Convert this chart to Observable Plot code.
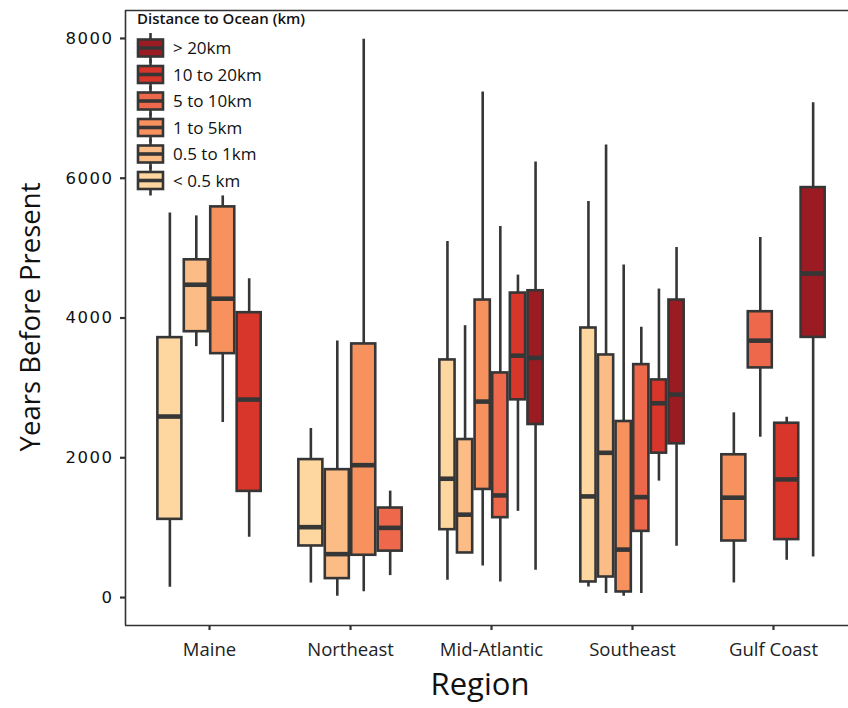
<!DOCTYPE html>
<html>
<head>
<meta charset="utf-8">
<script src="https://cdn.jsdelivr.net/npm/d3@7"></script>
<script src="https://cdn.jsdelivr.net/npm/@observablehq/plot@0.6"></script>
<style>
  html, body { margin: 0; padding: 0; background: #fff; }
  #chart { position: relative; width: 848px; height: 708px; }
  svg { font-family: "Open Sans", sans-serif; }
  g[aria-label="y-axis tick label"] text { font-family: "DejaVu Sans", sans-serif; font-size: 16.5px; letter-spacing: 1.5px; fill: #111; }
  g[aria-label="x-axis tick label"] text { font-family: "Open Sans", sans-serif; font-size: 18.5px; fill: #222; }
</style>
</head>
<body>
<div id="chart"></div>
<script>
const regions = ["Maine", "Northeast", "Mid-Atlantic", "Southeast", "Gulf Coast"];
const distances = ["< 0.5 km", "0.5 to 1km", "1 to 5km", "5 to 10km", "10 to 20km", "> 20km"];
const distanceColors = ["#fed69f", "#fbbc86", "#f7915e", "#ee684b", "#d8362a", "#9a1c22"];
const yTicks = [0, 2000, 4000, 6000, 8000];

// one entry per box
const boxRegion = [
  "Maine", "Maine", "Maine", "Maine",
  "Northeast", "Northeast", "Northeast", "Northeast",
  "Mid-Atlantic", "Mid-Atlantic", "Mid-Atlantic", "Mid-Atlantic", "Mid-Atlantic", "Mid-Atlantic",
  "Southeast", "Southeast", "Southeast", "Southeast", "Southeast", "Southeast",
  "Gulf Coast", "Gulf Coast", "Gulf Coast", "Gulf Coast"
];
const boxDistance = [
  "< 0.5 km", "0.5 to 1km", "1 to 5km", "10 to 20km",
  "< 0.5 km", "0.5 to 1km", "1 to 5km", "5 to 10km",
  "< 0.5 km", "0.5 to 1km", "1 to 5km", "5 to 10km", "10 to 20km", "> 20km",
  "< 0.5 km", "0.5 to 1km", "1 to 5km", "5 to 10km", "10 to 20km", "> 20km",
  "1 to 5km", "5 to 10km", "10 to 20km", "> 20km"
];
const whiskerLow = [147, 3590, 2504, 862,   207, 19, 84, 314,   247, 638, 451, 223, 1233, 390,   151, 57, 19, 57, 1666, 733,   209, 2294, 533, 580];
const q1         = [1119, 3804, 3490, 1519, 738, 271, 605, 664, 971, 638, 1547, 1143, 2829, 2476, 223, 294, 80, 947, 2066, 2200, 809, 3286, 829, 3723];
const medianVal  = [2590, 4476, 4276, 2833, 1007, 621, 1894, 997, 1700, 1186, 2804, 1461, 3461, 3429, 1447, 2071, 686, 1437, 2780, 2904, 1429, 3676, 1690, 4637];
const q3         = [3719, 4833, 5590, 4076, 1974, 1830, 3629, 1281, 3400, 2261, 4257, 3214, 4357, 4390, 3857, 3471, 2519, 3333, 3114, 4257, 2043, 4090, 2494, 5866];
const whiskerHigh= [5504, 5461, 5747, 4561, 2419, 3671, 7990, 1523, 5095, 3890, 7233, 5309, 4614, 6233, 5666, 6476, 4757, 3866, 4414, 5009, 2643, 5152, 2580, 7080];

// dodge boxes inside each region (only present groups share the width)
const dodgeWidth = 0.75;
const boxes = boxRegion.map((r, i) => {
  const members = boxRegion.map((rr, k) => rr === r ? k : -1).filter(k => k >= 0);
  const n = members.length, j = members.indexOf(i);
  const slot = dodgeWidth / n;
  const center = regions.indexOf(r) + 1 + (j - (n - 1) / 2) * slot;
  return {
    region: r, distance: boxDistance[i],
    xc: center, x1: center - slot / 2, x2: center + slot / 2,
    lo: whiskerLow[i], q1: q1[i], med: medianVal[i], q3: q3[i], hi: whiskerHigh[i]
  };
});

const xDomain = [0.404, 5.532];
const yDomain = [-400, 8400];
const ink = "#363636";

const chart = Plot.plot({
  width: 848,
  height: 708,
  marginLeft: 125,
  marginRight: 0,
  marginTop: 10,
  marginBottom: 83,
  style: { background: "#fff", overflow: "visible" },
  x: { type: "linear", domain: xDomain },
  y: { domain: yDomain },
  color: { type: "ordinal", domain: distances, range: distanceColors },
  marks: [
    Plot.ruleX(boxes, { x: "xc", y1: "lo", y2: "hi", stroke: ink, strokeWidth: 2.6 }),
    Plot.rect(boxes, { x1: "x1", x2: "x2", y1: "q1", y2: "q3", fill: "distance", stroke: ink, strokeWidth: 2.6, insetLeft: 1.2, insetRight: 1.2 }),
    Plot.ruleY(boxes, { x1: "x1", x2: "x2", y: "med", stroke: ink, strokeWidth: 4.6, insetLeft: 1.2, insetRight: 1.2 }),
    Plot.ruleX([xDomain[0]], { stroke: "#333", strokeWidth: 1.6 }),
    Plot.ruleY([yDomain[0]], { stroke: "#333", strokeWidth: 1.6 }),
    Plot.ruleY([yDomain[1]], { stroke: "#333", strokeWidth: 1.6 }),
    Plot.axisY({ ticks: yTicks, tickSize: 5, tickPadding: 7, label: null, stroke: "#333", strokeWidth: 2.2, tickFormat: d => String(d) }),
    Plot.axisX({ ticks: [1, 2, 3, 4, 5], tickSize: 5, tickPadding: 12, label: null, stroke: "#333", strokeWidth: 2.2, tickFormat: d => regions[d - 1] })
  ]
});

document.getElementById("chart").appendChild(chart);

const svg = d3.select(chart);
const color = chart.scale("color");

// axis titles
svg.append("text")
  .attr("x", 480).attr("y", 695)
  .attr("text-anchor", "middle")
  .style("font-family", "'Open Sans', sans-serif")
  .style("font-size", "31px").attr("fill", "#111")
  .text("Region");
svg.append("text")
  .attr("transform", "translate(40,317) rotate(-90)")
  .attr("text-anchor", "middle")
  .style("font-family", "'Open Sans', sans-serif")
  .style("font-size", "27.5px").attr("fill", "#111")
  .text("Years Before Present");

// legend (inside the panel, top-left)
const lg = svg.append("g").attr("transform", "translate(137,0)").attr("text-anchor", "start");
lg.append("text")
  .attr("x", 0).attr("y", 24)
  .attr("text-anchor", "start")
  .style("font-family", "'Open Sans', sans-serif")
  .style("font-size", "15px").style("font-weight", 600).attr("fill", "#111")
  .text("Distance to Ocean (km)");
const legendOrder = distances.slice().reverse();
legendOrder.forEach((d, i) => {
  const cy = 48 + i * 26.5;
  const g = lg.append("g");
  g.append("line").attr("x1", 13.5).attr("x2", 13.5).attr("y1", cy - 15).attr("y2", cy + 15)
    .attr("stroke", ink).attr("stroke-width", 2.6);
  g.append("rect").attr("x", 1).attr("y", cy - 8.5).attr("width", 25).attr("height", 17)
    .attr("fill", color.apply(d)).attr("stroke", ink).attr("stroke-width", 2.6);
  g.append("line").attr("x1", 1).attr("x2", 26).attr("y1", cy).attr("y2", cy)
    .attr("stroke", ink).attr("stroke-width", 3.6);
  g.append("text").attr("x", 36).attr("y", cy + 6)
    .attr("text-anchor", "start")
    .style("font-family", "'Open Sans', sans-serif")
    .style("font-size", "17px").attr("fill", "#111")
    .text(d);
});
</script>
</body>
</html>
